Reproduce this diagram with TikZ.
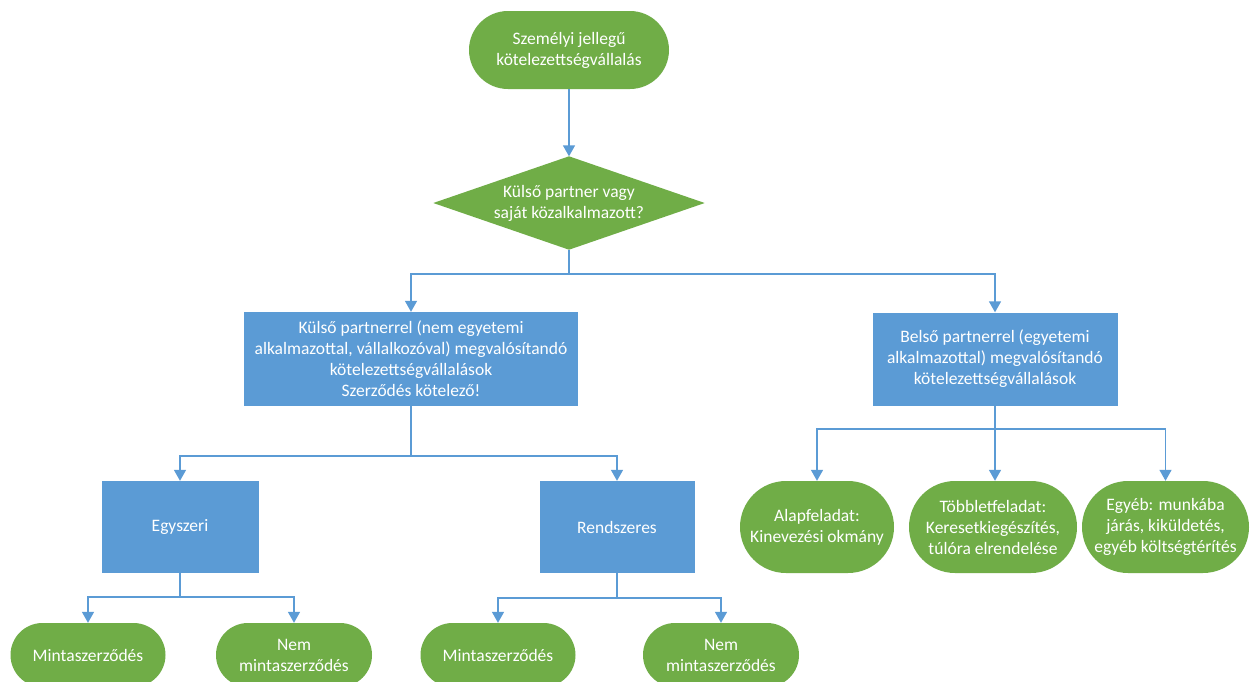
\documentclass[tikz,border=0pt]{standalone}
\usepackage{fontspec}
\setmainfont{Carlito}
\usetikzlibrary{arrows.meta}
\definecolor{offgreen}{HTML}{70AD47}
\definecolor{offblue}{HTML}{5B9BD5}
\begin{document}
\begin{tikzpicture}[x=1pt,y=-1pt,
  every node/.style={font=\fontsize{17.5}{21}\selectfont, text=white, align=center, inner sep=0pt},
  pill/.style n args={3}{rectangle, fill=offgreen, minimum width=#1, minimum height=#2, rounded corners=#3},
  box/.style 2 args={rectangle, fill=offblue, minimum width=#1, minimum height=#2},
  conn/.style={draw=offblue, line width=1.5pt, -{Triangle[width=12pt,length=11pt]}},
  link/.style={draw=offblue, line width=1.5pt}]
\path[use as bounding box, fill=white] (0,0) rectangle (1259,681);
\clip (0,0) rectangle (1259,681);

% nodes
\node[pill={200pt}{78pt}{39pt}] (top) at (569,50) {Személyi jellegű\\kötelezettségvállalás};
\node[rectangle, minimum width=271pt, minimum height=93pt] (dia) at (569,203) {};
\fill[offgreen] (dia.north) -- (dia.east) -- (dia.south) -- (dia.west) -- cycle;
\node at (569,203) {Külső partner vagy\\saját közalkalmazott?};

\node[box={334pt}{94pt}] (ext) at (411,359) {Külső partnerrel (nem egyetemi\\alkalmazottal, vállalkozóval) megvalósítandó\\kötelezettségvállalások\\Szerződés kötelező!};
\node[box={245pt}{93pt}] (int) at (995,359) {Belső partnerrel (egyetemi\\alkalmazottal) megvalósítandó\\kötelezettségvállalások};

\node[box={157pt}{92pt}] (egy) at (180,527) {Egyszeri};
\node[box={155pt}{92pt}] (ren) at (617,527) {Rendszeres};

\node[pill={154pt}{92pt}{46pt}] (alap) at (817,527) {Alapfeladat:\\Kinevezési okmány};
\node[pill={168pt}{92pt}{46pt}] (tobb) at (993,527) {Többletfeladat:\\Keresetkiegészítés,\\túlóra elrendelése};
\node[pill={167pt}{92pt}{46pt}] (egyeb) at (1165.5,527) {Egyéb: munkába\\járás, kiküldetés,\\egyéb költségtérítés};

\node[pill={155pt}{64pt}{32pt}] (m1) at (88,655) {Mintaszerződés};
\node[pill={156pt}{64pt}{32pt}] (n1) at (294,655) {Nem\\mintaszerződés};
\node[pill={155pt}{64pt}{32pt}] (m2) at (498,655) {Mintaszerződés};
\node[pill={156pt}{64pt}{32pt}] (n2) at (721,655) {Nem\\mintaszerződés};

% junctions
\coordinate (j1) at (569,274);
\coordinate (j2) at (411,456);
\coordinate (j3) at (995,429);
\coordinate (j4) at (180,597);
\coordinate (j5) at (617,598);

% connectors
\draw[conn] (top) -- (dia.north);
\draw[link] (dia.south) -- (j1);
\draw[conn] (j1) -| (ext.north);
\draw[conn] (j1) -| (int.north);

\draw[link] (ext.south) -- (j2);
\draw[conn] (j2) -| (egy.north);
\draw[conn] (j2) -| (ren.north);

\draw[link] (int.south) -- (j3);
\draw[conn] (j3) -| (alap.north);
\draw[conn] (j3) -- (tobb.north -| j3);
\draw[conn] (j3) -| (egyeb.north);

\draw[link] (egy.south) -- (j4);
\draw[conn] (j4) -| (m1.north);
\draw[conn] (j4) -| (n1.north);

\draw[link] (ren.south) -- (j5);
\draw[conn] (j5) -| (m2.north);
\draw[conn] (j5) -| (n2.north);
\end{tikzpicture}
\end{document}
